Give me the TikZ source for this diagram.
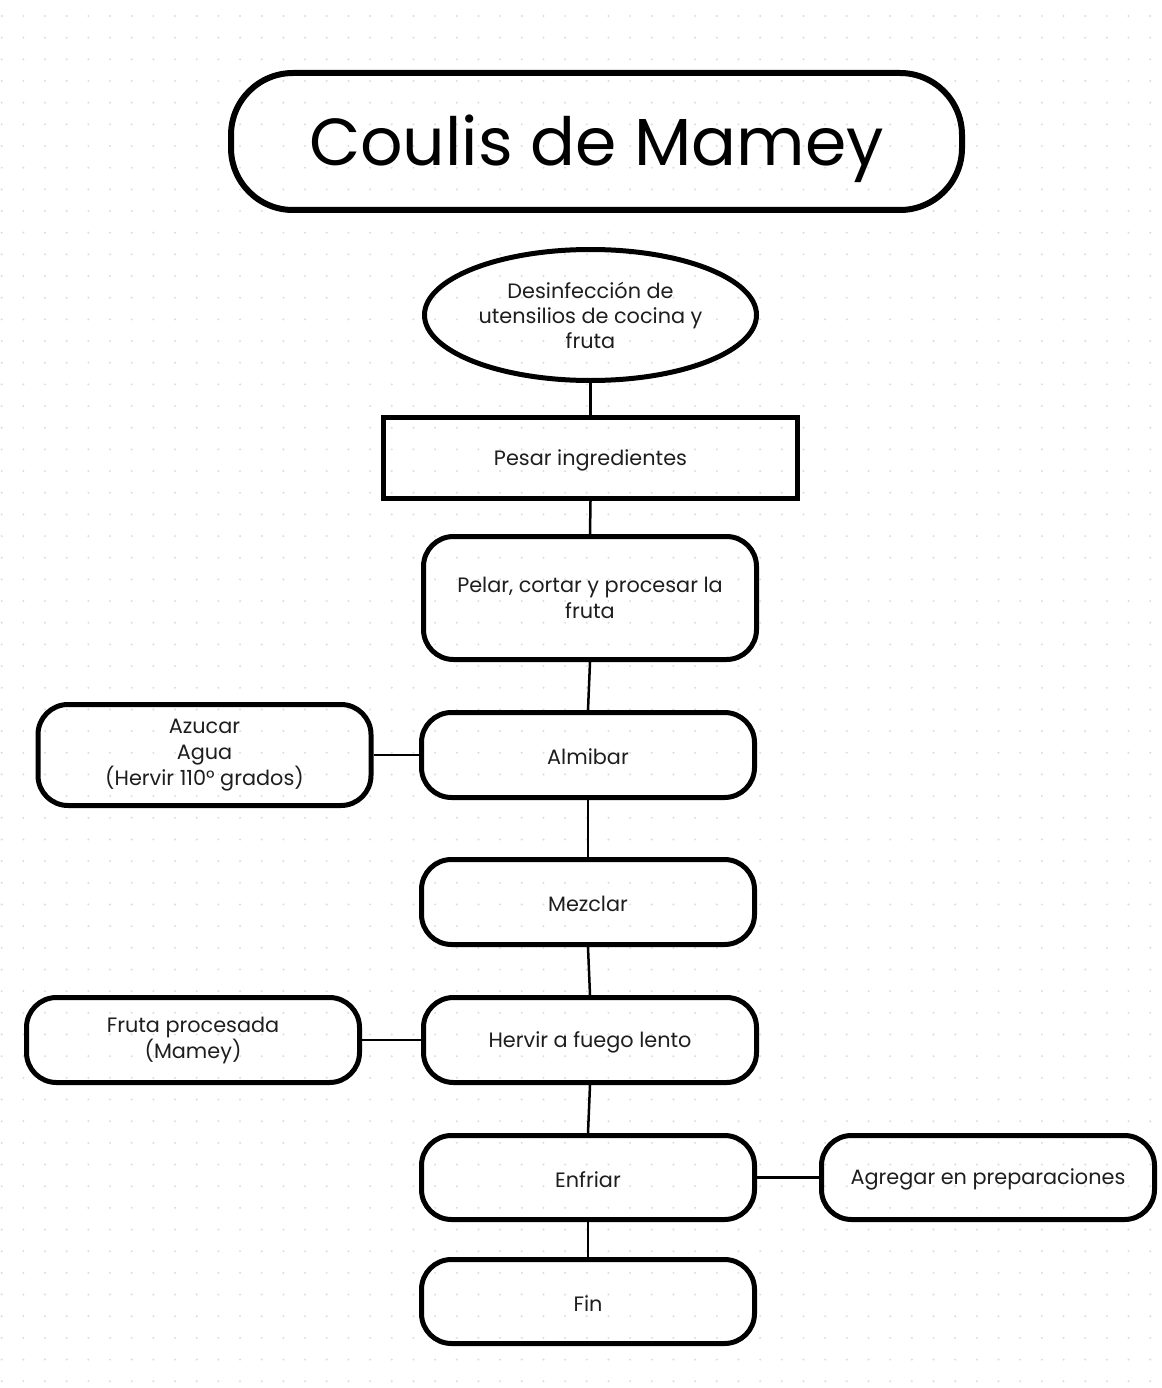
\documentclass[tikz,border=0pt]{standalone}
\usepackage{fontspec}
\setmainfont{Poppins}
\usetikzlibrary{shapes.geometric}
\definecolor{dotc}{HTML}{D8DCE4}
\definecolor{txt}{HTML}{1E1E1E}
\begin{document}
\begin{tikzpicture}[x=1pt,y=-1pt,
  box/.style={draw=black, line width=5pt, rounded corners=30pt, minimum width=333pt, minimum height=86pt, inner sep=0pt, align=center, text=txt, font=\fontsize{20.8}{26}\selectfont},
  conn/.style={draw=black, line width=2.5pt}]
\useasboundingbox (0,0) rectangle (1161,1388);
\fill[white] (0,0) rectangle (1161,1388);
\foreach \i in {0,...,53}{
  \foreach \j in {0,...,63}{
    \fill[dotc] (1.7+21.67*\i, 16+21.67*\j) circle (1.1);
  }
}
% title
\node[draw=black, line width=6pt, rounded corners=62pt, minimum width=731pt, minimum height=137pt, inner sep=0pt, text=black, font=\fontsize{66.5}{76}\selectfont] (title) at (596.5,141.5) {\raisebox{-7pt}[\height][\depth]{Coulis de Mamey}};
% ellipse
\node[draw=black, line width=5pt, ellipse, minimum width=332pt, minimum height=131pt, inner sep=0pt, align=center, text=txt, font=\fontsize{20.8}{25}\selectfont] (des) at (590.5,315) {Desinfección de\\utensilios de cocina y\\fruta};
\node[box, rounded corners=0pt, minimum width=414pt, minimum height=81pt] (pesar) at (590.5,458) {\raisebox{-2pt}[\height][\depth]{Pesar ingredientes}};
\node[box, minimum height=123pt] (pelar) at (590,598) {Pelar, cortar y procesar la\\fruta};
\node[box, minimum height=85pt] (alm) at (588,755) {\raisebox{-2pt}[\height][\depth]{Almibar}};
\node[box, minimum height=101pt] (azu) at (204.5,755) {Azucar\\Agua\\(Hervir 110° grados)};
\node[box, minimum height=85pt] (mez) at (588,902) {\raisebox{-2pt}[\height][\depth]{Mezclar}};
\node[box, minimum height=85pt] (her) at (590,1040) {\raisebox{-2pt}[\height][\depth]{Hervir a fuego lento}};
\node[box, minimum height=85pt] (fru) at (193,1040) {Fruta procesada\\(Mamey)};
\node[box, minimum height=84pt] (enf) at (588,1177.5) {\raisebox{-2pt}[\height][\depth]{Enfriar}};
\node[box, minimum height=84pt] (agr) at (988,1177.5) {\raisebox{-2pt}[\height][\depth]{Agregar en preparaciones}};
\node[box, minimum height=84pt] (fin) at (588,1301.5) {\raisebox{-2pt}[\height][\depth]{Fin}};
% connectors
\draw[conn] (des.south) -- (pesar.north);
\draw[conn] (pesar.south) -- (pelar.north);
\draw[conn] (pelar.south) -- (alm.north);
\draw[conn] (alm.south) -- (mez.north);
\draw[conn] (mez.south) -- (her.north);
\draw[conn] (her.south) -- (enf.north);
\draw[conn] (enf.south) -- (fin.north);
\draw[conn] (azu.east) -- (alm.west);
\draw[conn] (fru.east) -- (her.west);
\draw[conn] (enf.east) -- (agr.west);
\end{tikzpicture}
\end{document}
